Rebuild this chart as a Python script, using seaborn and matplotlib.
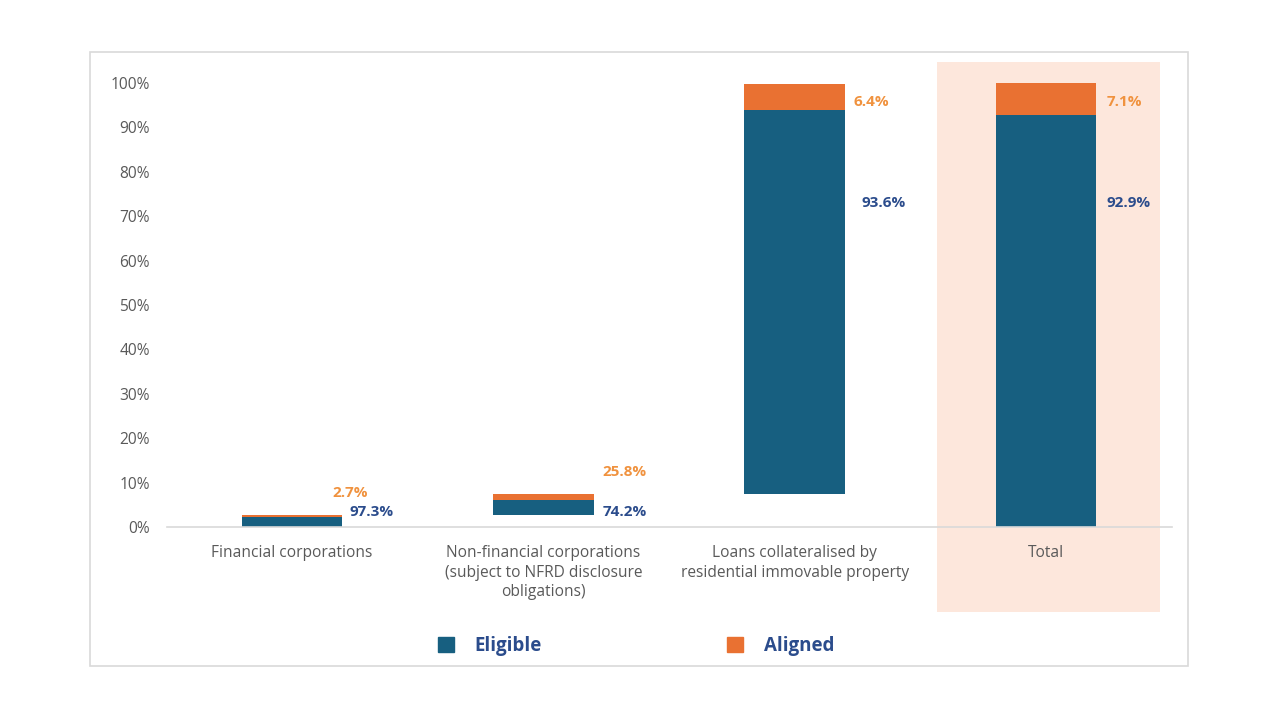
import numpy as np
import pandas as pd
import seaborn as sns
import matplotlib.pyplot as plt
from matplotlib.patches import Rectangle

# Data (share of total exposure, in %)
categories = [
    "Financial corporations",
    "Non-financial corporations\n(subject to NFRD disclosure\nobligations)",
    "Loans collateralised by\nresidential immovable property",
    "Total",
]
base = [0.0, 2.6, 7.4, 0.0]
eligible = [2.3, 3.5, 86.5, 92.9]
aligned = [0.5, 1.3, 5.8, 7.1]
eligible_labels = ["97.3%", "74.2%", "93.6%", "92.9%"]
aligned_labels = ["2.7%", "25.8%", "6.4%", "7.1%"]

ELIGIBLE_COLOR = "#175F80"
ALIGNED_COLOR = "#E97132"
ELIGIBLE_TEXT = "#2B4C8C"
ALIGNED_TEXT = "#F0923E"
GRAY_TEXT = "#595959"

sns.set_style("white")
plt.rcParams["font.family"] = ["Open Sans", "DejaVu Sans"]

df = pd.DataFrame({
    "category": categories,
    "base": base,
    "eligible": eligible,
    "aligned": aligned,
})
df["aligned_base"] = df["base"] + df["eligible"]

fig = plt.figure(figsize=(12.8, 7.2), dpi=100)
ax = fig.add_axes([166.5 / 1280, 1 - 527 / 720, 1005 / 1280, 444 / 720])

# highlight band behind "Total"
ax.add_patch(Rectangle((2.565, -19.1), 0.89, 123.8, facecolor="#FDE7DC",
                       edgecolor="none", clip_on=False, zorder=0))

sns.barplot(data=df, x="category", y="eligible", bottom=df["base"],
            color=ELIGIBLE_COLOR, width=0.4, saturation=1, linewidth=0,
            ax=ax, zorder=2)
sns.barplot(data=df, x="category", y="aligned", bottom=df["aligned_base"],
            color=ALIGNED_COLOR, width=0.4, saturation=1, linewidth=0,
            ax=ax, zorder=2)

# data labels (positions as placed in the original)
elig_label_y = [3.4, 3.4, 73.0, 73.0]
alig_label_y = [7.6, 12.4, 95.7, 95.7]
elig_dx = [0.23, 0.235, 0.265, 0.24]
alig_dx = [0.16, 0.235, 0.235, 0.24]
for i in range(len(categories)):
    ax.text(i + elig_dx[i], elig_label_y[i], eligible_labels[i], color=ELIGIBLE_TEXT,
            fontsize=11, fontweight="bold", va="center", ha="left")
    ax.text(i + alig_dx[i], alig_label_y[i], aligned_labels[i], color=ALIGNED_TEXT,
            fontsize=11, fontweight="bold", va="center", ha="left")

ax.set_xlim(-0.5, 3.5)
ax.set_ylim(0, 100)
ax.set_yticks(np.arange(0, 101, 10))
ax.set_yticklabels([f"{v}%" for v in range(0, 101, 10)])
ax.set_xlabel("")
ax.set_ylabel("")
ax.tick_params(axis="both", length=0, colors=GRAY_TEXT, labelsize=11.2)
ax.tick_params(axis="x", pad=13)
ax.tick_params(axis="y", pad=12)
for lbl in ax.get_xticklabels():
    lbl.set_linespacing(1.3)
for side in ["left", "right", "top"]:
    ax.spines[side].set_visible(False)
ax.spines["bottom"].set_color("#D9D9D9")
ax.spines["bottom"].set_linewidth(1.2)
ax.patch.set_alpha(0)

# outer frame
fig.patches.append(Rectangle((90 / 1280, 1 - 666 / 720), 1098 / 1280, 614 / 720,
                             transform=fig.transFigure, fill=False,
                             edgecolor="#D9D9D9", linewidth=1.2))

# legend
handles = [Rectangle((0, 0), 1, 1, color=ELIGIBLE_COLOR),
           Rectangle((0, 0), 1, 1, color=ALIGNED_COLOR)]
leg = fig.legend(handles, ["Eligible", "Aligned"], loc="center",
                 bbox_to_anchor=(0.497, 1 - 646 / 720), ncol=2, frameon=False,
                 handlelength=0.85, handleheight=0.85, handletextpad=1.1,
                 columnspacing=9.9, prop={"size": 13.5, "weight": "bold"})
for t in leg.get_texts():
    t.set_color(ELIGIBLE_TEXT)

fig.savefig("out.png", dpi=100)
